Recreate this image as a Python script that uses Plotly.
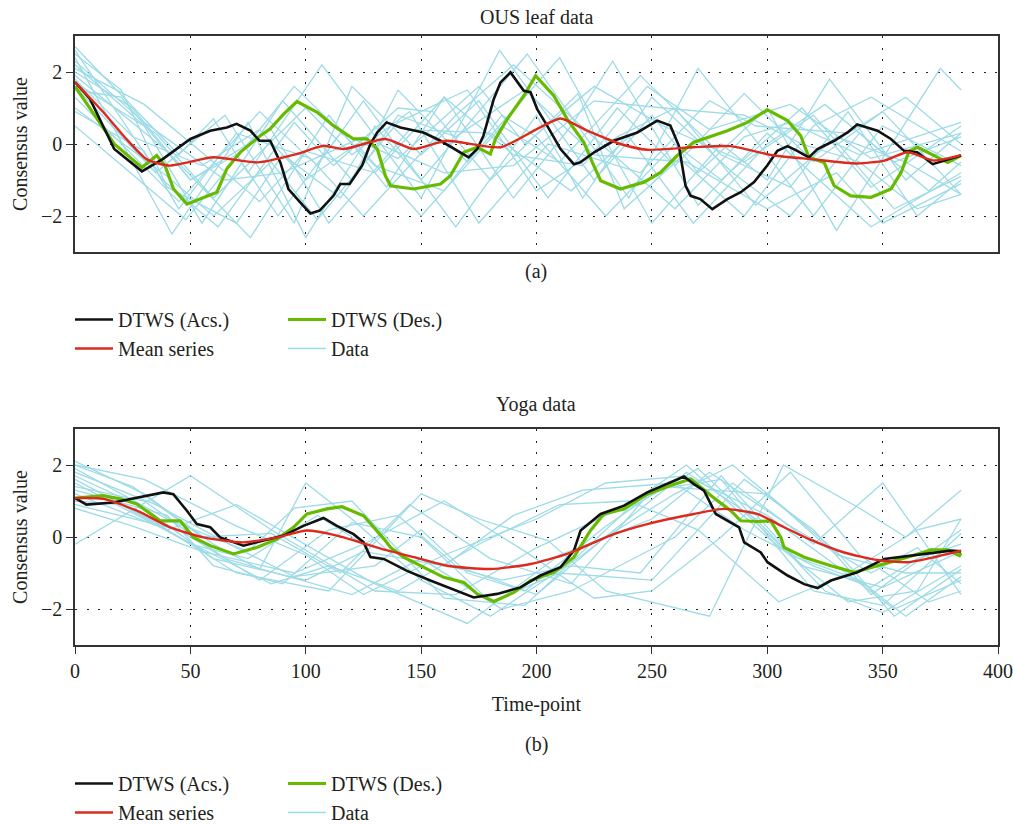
import plotly.graph_objects as go

# ---------------- data ----------------
# Panel (a): OUS leaf data  -- (time-point, value) breakpoints
ous_acs = [(0, 1.72), (6.5, 1.25), (17, -0.14), (29, -0.76), (38, -0.42), (44, -0.14), (50, 0.14),
           (58.6, 0.37), (65.8, 0.46), (70, 0.56), (76, 0.37), (80, 0.09), (84.6, 0.09), (89, -0.51),
           (92.5, -1.25), (97.6, -1.62), (102, -1.93), (106, -1.85), (112, -1.44), (115, -1.11),
           (119, -1.11), (124.4, -0.6), (128, 0.0), (131, 0.32), (135, 0.6), (141, 0.46), (151, 0.32),
           (158.4, 0.09), (167, -0.23), (170.6, -0.37), (174.3, -0.14), (177, 0.23), (181.5, 1.25),
           (184.4, 1.71), (188.7, 1.99), (194.5, 1.48), (197.4, 1.44), (200.3, 0.97), (204.6, 0.51),
           (210.4, -0.14), (216.2, -0.56), (219, -0.51), (225, -0.23), (233.5, 0.09), (243.7, 0.32),
           (252.3, 0.65), (258, 0.51), (261.7, -0.05), (264.6, -1.16), (266.8, -1.44), (271, -1.53),
           (276.2, -1.81), (282.7, -1.53), (288.5, -1.34), (294.3, -1.06), (300, -0.6), (304.4, -0.19),
           (308.8, -0.06), (313, -0.19), (318, -0.37), (321.8, -0.14), (329, 0.09), (334.8, 0.32),
           (339, 0.54), (347.8, 0.37), (353.6, 0.14), (359.3, -0.19), (365, -0.23), (371.7, -0.56),
           (376.7, -0.46), (384, -0.32)]
ous_des = [(0, 1.6), (17, 0.0), (29, -0.65), (35.4, -0.32), (39, -0.6), (42.7, -1.25), (48.5, -1.67),
           (55.7, -1.48), (61.5, -1.34), (65.8, -0.69), (71.6, -0.23), (80.3, 0.23), (84.6, 0.42),
           (90.4, 0.83), (96.2, 1.18), (105, 0.88), (112, 0.51), (120.7, 0.14), (126.5, 0.14),
           (131, -0.14), (134.5, -0.88), (136.7, -1.16), (146.8, -1.25), (158.4, -1.11), (162.7, -0.88),
           (168.5, -0.23), (174.3, -0.09), (180, -0.28), (182.2, 0.14), (187.3, 0.69), (194.5, 1.34),
           (199.6, 1.9), (207.5, 1.34), (213.3, 0.69), (220.5, 0.05), (224.2, -0.51), (227.8, -1.02),
           (236.4, -1.25), (246.6, -1.06), (253.8, -0.79), (261, -0.32), (268.2, 0.05), (272.6, 0.14),
           (282.7, 0.37), (291.4, 0.6), (300.1, 0.95), (308.8, 0.65), (314.5, 0.23), (318, -0.37),
           (324.6, -0.51), (329, -1.16), (336.2, -1.44), (345, -1.48), (353.6, -1.25), (358, -0.79),
           (361.5, -0.19), (365.2, -0.09), (372.4, -0.32), (378.2, -0.51), (384, -0.32)]
ous_mean = [(0, 1.72), (12.3, 0.88), (21, 0.23), (31, -0.42), (41, -0.6), (60, -0.37), (79, -0.51),
            (96, -0.28), (107.7, -0.05), (116.4, -0.14), (134.5, 0.14), (146.8, -0.14), (161, 0.09),
            (184.4, -0.09), (200.3, 0.42), (210.4, 0.71), (222, 0.37), (236.4, 0.0), (248, -0.16),
            (268, -0.09), (284, -0.06), (303, -0.32), (319, -0.42), (339, -0.54), (350.7, -0.46),
            (360.8, -0.23), (372.4, -0.46), (384, -0.31)]

ous_data_01 = [(0, 2.7), (45, -0.3), (60, 0.7), (75, -0.8), (107, 2.2), (150, -1.5), (184, 2.6), (225, -1.0),
               (250, 0.8), (270, -0.8), (300, 1.0), (330, -2.4), (375, 2.1), (384, 1.5)]
ous_data_02 = [(0, 2.4), (42, -2.5), (75, 0.6), (100, -2.6), (130, 0.5), (150, -1.0), (196, 2.5), (240, -1.5),
               (270, 2.1), (300, -0.3), (320, -2.0), (350, 0.5), (384, -0.6)]
ous_data_03 = [(0, 2.2), (30, 0.5), (55, -2.2), (90, 1.2), (120, -1.0), (140, 1.5), (170, -0.5), (210, 2.4),
               (250, -2.2), (280, 0.0), (300, -1.0), (327, 1.8), (360, -1.0), (384, 0.3)]
ous_data_04 = [(0, 1.9), (40, -0.2), (76, -2.6), (110, 0.8), (135, -1.2), (160, 1.3), (190, -1.5), (215, 0.5),
               (233, 2.3), (270, -1.7), (300, 0.3), (345, -2.3), (384, -0.8)]
ous_data_05 = [(0, 1.6), (35, -0.8), (65, 0.8), (95, -2.2), (120, 1.6), (150, -0.3), (175, 1.2), (205, -1.5),
               (235, 1.0), (260, -0.6), (290, 1.4), (320, -0.5), (350, 0.9), (384, -1.4)]
ous_data_06 = [(0, 1.3), (45, -1.6), (80, 0.9), (105, -0.6), (125, 1.2), (165, -2.3), (200, 0.8), (220, -1.5),
               (250, 1.3), (285, -0.8), (310, -2.0), (340, 0.3), (370, -1.3), (384, -0.5)]
ous_data_07 = [(0, 0.5), (48, -2.1), (75, 0.0), (95, 1.6), (130, -0.6), (160, -1.3), (185, 0.8), (200, 0.2),
               (230, -2.0), (260, 0.0), (280, -1.0), (315, 1.0), (345, -1.2), (384, 0.5)]
ous_data_08 = [(0, 2.0), (25, 1.0), (50, -1.0), (70, -0.3), (88, -2.0), (115, 0.3), (140, -0.4), (175, 1.6),
               (195, 0.0), (225, 1.6), (255, 0.5), (290, -0.5), (320, 0.8), (355, -1.8), (384, -0.9)]
ous_data_09 = [(0, 1.7), (35, 0.3), (60, -1.5), (100, 1.0), (120, -0.3), (145, 0.9), (175, -2.2), (205, 0.0),
               (245, -0.8), (275, 1.2), (295, 0.5), (335, 0.3), (360, 1.3), (384, 0.0)]
ous_data_10 = [(0, 2.5), (20, 1.5), (40, -1.2), (70, -2.2), (90, -0.3), (115, -1.5), (140, 0.8), (165, 0.2),
               (195, 1.5), (225, -0.3), (265, -0.5), (300, -1.8), (330, -0.8), (350, -2.2), (384, -1.1)]
ous_data_11 = [(0, 1.5), (20, 1.3), (50, -1.0), (85, 0.4), (110, -2.2), (145, 0.4), (180, 0.3), (215, -1.3),
               (240, 0.2), (268, -2.2), (300, 0.0), (325, 1.1), (355, -0.5), (384, 0.2)]
ous_data_12 = [(0, 2.3), (30, 0.6), (65, -1.0), (90, -0.8), (125, 0.2), (160, -0.8), (190, -0.6), (225, 1.2),
               (255, 1.0), (290, 0.8), (315, 0.0), (340, -0.5), (365, -1.8), (384, -1.4)]
ous_data_13 = [(0, 1.0), (40, -0.9), (60, -2.0), (85, -0.5), (105, -2.1), (140, 0.6), (170, 1.5), (200, -1.3),
               (235, 0.2), (260, 1.0), (295, -1.7), (330, 0.2), (360, -0.5), (384, -1.4)]
ous_data_14 = [(0, 2.1), (30, 1.1), (60, -0.5), (80, -1.6), (100, -0.2), (130, -0.8), (160, 1.3), (190, -0.3),
               (220, -0.6), (248, 1.6), (275, 0.4), (310, 1.1), (345, -0.4), (384, 0.3)]
ous_data_15 = [(0, 1.8), (25, 0.2), (55, -0.6), (80, 0.4), (100, -1.0), (122, 0.0), (150, -2.0), (185, 0.5),
               (210, -0.5), (245, 1.9), (280, -0.3), (310, -1.2), (335, 0.9), (365, -2.0), (384, -1.0)]
ous_data_16 = [(0, 2.6), (38, -1.0), (62, -2.3), (95, 0.6), (112, -0.6), (140, 1.0), (155, 0.9), (180, -1.0),
               (218, 1.4), (238, -1.8), (262, -0.4), (290, -2.0), (320, 0.5), (345, 1.3), (384, -0.2)]
ous_data_17 = [(0, 0.9), (30, -0.2), (45, -1.8), (70, 0.3), (102, -0.4), (125, -2.0), (165, 0.8), (190, 2.2),
               (228, 0.0), (260, -1.8), (290, 0.2), (310, 0.6), (340, -0.3), (384, 0.6)]

# Panel (b): Yoga data
yoga_acs = [(0, 1.08), (5, 0.9), (16.6, 0.96), (26.8, 1.1), (38.3, 1.24), (42.6, 1.19), (48.5, 0.73),
            (52.8, 0.36), (58.6, 0.27), (62.9, -0.01), (73, -0.24), (81.7, -0.1), (90.4, 0.04), (99, 0.31),
            (107.7, 0.53), (113.5, 0.31), (120.7, 0.08), (125.1, -0.15), (128, -0.56), (133.8, -0.61),
            (143.9, -0.94), (154, -1.21), (165.6, -1.49), (172.8, -1.68), (183, -1.58), (193, -1.4),
            (201.7, -1.07), (210.4, -0.84), (216.2, -0.38), (219.1, 0.18), (227.8, 0.64), (237.9, 0.87),
            (248, 1.24), (258.1, 1.52), (263.9, 1.68), (268.2, 1.47), (272.6, 1.29), (277.7, 0.64),
            (282.7, 0.45), (287.8, 0.27), (290, -0.15), (297.2, -0.43), (300.1, -0.7), (308.8, -1.07),
            (316, -1.31), (321.8, -1.42), (327.6, -1.21), (339.1, -0.98), (350.7, -0.61), (368, -0.47),
            (379.6, -0.38), (384, -0.4)]
yoga_des = [(0, 1.08), (12.3, 1.15), (19.5, 1.06), (26.8, 0.92), (36.9, 0.45), (45.6, 0.45), (51.3, -0.01),
            (58.6, -0.24), (68.7, -0.47), (78.8, -0.29), (87.5, -0.06), (94.7, 0.27), (100.5, 0.64),
            (109.2, 0.78), (115.7, 0.84), (125.1, 0.59), (134.5, -0.1), (136.7, -0.29), (142.4, -0.56),
            (151.1, -0.84), (159.8, -1.12), (168.5, -1.26), (174.3, -1.58), (181.5, -1.79), (190.2, -1.54),
            (197.4, -1.21), (207.5, -0.98), (216.2, -0.56), (223.4, 0.18), (229.2, 0.64), (237.9, 0.78),
            (248, 1.19), (258.1, 1.43), (266.8, 1.61), (271.1, 1.38), (278.4, 1.01), (284.2, 0.73),
            (288.5, 0.45), (295.7, 0.43), (301.5, 0.45), (305.9, -0.01), (307.3, -0.29), (316, -0.56),
            (327.6, -0.8), (337.7, -0.98), (350.7, -0.75), (360.8, -0.56), (370.9, -0.36), (378.2, -0.36),
            (383.3, -0.52), (384, -0.45)]
yoga_mean = [(0, 1.08), (12.3, 1.06), (26.8, 0.73), (41.2, 0.27), (55.7, -0.01), (73, -0.15), (87.5, -0.01),
             (100.5, 0.18), (113.5, 0.04), (134.5, -0.36), (146.8, -0.56), (161.2, -0.8), (180, -0.89),
             (197.4, -0.75), (213.3, -0.47), (233.5, 0.08), (248, 0.36), (268.2, 0.64), (281.3, 0.78),
             (295.7, 0.64), (307.3, 0.27), (318.9, -0.08), (333.3, -0.43), (347.8, -0.64), (360.8, -0.7),
             (372.4, -0.56), (384, -0.38)]

yoga_data_01 = [(0, -0.2), (50, 1.7), (85, 0.2), (130, -1.5), (165, -1.6), (200, -0.3), (240, 0.9), (265, 2.0),
                (300, 0.0), (335, -1.8), (365, -1.5), (384, 0.5)]
yoga_data_02 = [(0, 2.1), (30, 1.2), (60, -0.2), (80, -0.9), (100, 1.5), (120, 0.5), (150, -1.2), (180, -2.2),
                (220, -0.5), (265, 1.8), (295, 0.5), (325, -1.5), (350, -2.1), (384, -0.8)]
yoga_data_03 = [(0, 1.9), (40, 0.5), (75, -0.4), (95, 0.8), (120, 1.0), (160, -1.7), (195, -1.9), (240, 0.8),
                (270, 1.9), (310, -0.5), (340, -1.2), (360, -2.2), (384, -1.1)]
yoga_data_04 = [(0, 1.6), (35, 0.4), (70, -1.0), (110, -1.5), (150, 1.2), (175, 0.5), (205, -0.1), (230, -1.5),
                (275, -2.2), (307, 2.0), (340, 0.8), (360, 0.0), (384, 1.3)]
yoga_data_05 = [(0, 1.4), (30, 1.0), (65, -0.6), (120, -1.6), (150, -0.6), (185, -2.0), (215, -1.5), (260, 0.0),
                (285, 1.5), (320, -0.2), (350, 1.5), (384, -1.6)]
yoga_data_06 = [(0, 1.2), (40, 0.2), (70, 0.9), (105, -0.4), (130, -1.3), (170, -2.4), (210, -0.5), (250, 0.5),
                (275, 1.8), (310, 0.3), (345, -1.0), (365, -0.3), (384, -1.3)]
yoga_data_07 = [(0, 0.9), (45, 0.2), (80, -1.2), (110, 0.2), (140, 0.6), (165, -0.8), (200, -1.6), (230, 0.0),
                (260, 1.2), (285, 2.0), (330, -0.4), (355, -2.2), (384, -0.9)]
yoga_data_08 = [(0, 2.0), (25, 1.4), (55, 0.0), (85, 0.1), (115, -1.0), (145, 0.9), (180, -0.6), (215, -1.3),
                (250, 1.3), (280, 1.6), (320, -1.5), (350, -1.9), (384, 0.1)]
yoga_data_09 = [(0, 1.7), (30, 0.8), (60, -0.6), (100, -1.2), (125, -0.4), (160, -0.8), (190, 0.6), (220, 1.3),
                (260, 1.5), (290, 0.2), (320, -0.8), (345, -1.4), (365, -0.6), (384, -0.2)]
yoga_data_10 = [(0, 1.5), (45, 0.0), (85, -1.3), (110, -0.8), (140, -1.5), (175, -0.2), (210, 0.9), (240, 1.0),
                (270, 0.2), (305, -1.8), (335, -1.0), (365, 0.2), (384, 0.5)]
yoga_data_11 = [(0, 1.0), (20, 0.9), (50, -0.2), (75, -0.6), (105, 0.6), (125, -0.2), (150, -0.6), (185, -1.2),
                (215, -0.8), (245, -1.0), (280, 1.7), (315, -0.8), (350, -1.4), (384, -0.4)]
yoga_data_12 = [(0, 1.8), (35, 0.9), (70, -0.3), (95, -1.1), (130, -0.8), (150, 0.2), (170, -1.0), (195, -1.5),
                (230, 0.3), (255, 1.4), (300, 1.2), (330, -0.5), (360, -1.0), (384, -1.0)]
yoga_data_13 = [(0, 2.0), (30, 1.6), (70, 0.3), (100, -0.5), (125, -1.6), (160, -0.5), (200, 0.5), (230, 1.5),
                (265, 1.7), (300, 0.6), (330, -0.8), (355, -2.0), (384, -1.2)]
yoga_data_14 = [(0, 1.3), (40, 0.6), (60, -0.8), (90, -1.3), (120, 0.4), (150, 0.0), (180, -1.8), (210, -1.0),
                (250, -1.2), (290, 1.6), (320, 0.2), (345, -1.6), (384, 0.2)]
yoga_data_15 = [(0, 0.8), (25, 0.3), (55, -0.4), (95, -1.0), (125, -0.2), (160, 1.0), (195, -0.4), (225, -1.7),
                (250, -1.5), (280, 0.0), (310, 1.8), (340, -0.5), (370, -1.8), (384, -1.5)]

ous_data = [ous_data_01, ous_data_02, ous_data_03, ous_data_04, ous_data_05, ous_data_06, ous_data_07,
            ous_data_08, ous_data_09, ous_data_10, ous_data_11, ous_data_12, ous_data_13, ous_data_14,
            ous_data_15, ous_data_16, ous_data_17]
yoga_data = [yoga_data_01, yoga_data_02, yoga_data_03, yoga_data_04, yoga_data_05, yoga_data_06,
             yoga_data_07, yoga_data_08, yoga_data_09, yoga_data_10, yoga_data_11, yoga_data_12,
             yoga_data_13, yoga_data_14, yoga_data_15]

x_ticks = [0, 50, 100, 150, 200, 250, 300, 350, 400]
y_ticks = [-2, 0, 2]
panel_titles = ["OUS leaf data", "Yoga data"]
panel_labels = ["(a)", "(b)"]
name_acs, name_des, name_mean, name_data = "DTWS (Acs.)", "DTWS (Des.)", "Mean series", "Data"

# ---------------- styling ----------------
W, H = 1013, 825
FONT = "Liberation Serif"
TXT = "#231f20"
C_BLACK, C_GREEN, C_RED, C_CYAN = "#111111", "#66bb00", "#dd2a1e", "#9ddbe6"
AX = "#333333"


def px(x):
    return x / W


def py(y):
    return 1 - y / H


def xs(pts):
    return [p[0] for p in pts]


def ys(pts):
    return [p[1] for p in pts]


fig = go.Figure()

panels = [
    dict(data=ous_data, acs=ous_acs, des=ous_des, mean=ous_mean, xa="x", ya="y", lg=("legend", "legend2")),
    dict(data=yoga_data, acs=yoga_acs, des=yoga_des, mean=yoga_mean, xa="x2", ya="y2", lg=("legend3", "legend4")),
]

for p in panels:
    for i, s in enumerate(p["data"]):
        fig.add_trace(go.Scatter(x=xs(s), y=ys(s), mode="lines", name=name_data,
                                 line=dict(color=C_CYAN, width=1.3), xaxis=p["xa"], yaxis=p["ya"],
                                 legend=p["lg"][1], legendgroup="data" + p["xa"], showlegend=(i == 0),
                                 legendrank=2, hoverinfo="skip"))
    fig.add_trace(go.Scatter(x=xs(p["des"]), y=ys(p["des"]), mode="lines", name=name_des,
                             line=dict(color=C_GREEN, width=3.2), xaxis=p["xa"], yaxis=p["ya"],
                             legend=p["lg"][1], legendrank=1))
    fig.add_trace(go.Scatter(x=xs(p["acs"]), y=ys(p["acs"]), mode="lines", name=name_acs,
                             line=dict(color=C_BLACK, width=2.6), xaxis=p["xa"], yaxis=p["ya"],
                             legend=p["lg"][0], legendrank=1))
    fig.add_trace(go.Scatter(x=xs(p["mean"]), y=ys(p["mean"]), mode="lines", name=name_mean,
                             line=dict(color=C_RED, width=2.4, shape="spline", smoothing=0.6),
                             xaxis=p["xa"], yaxis=p["ya"], legend=p["lg"][0], legendrank=2))

grid = dict(showgrid=True, gridcolor="#222222", gridwidth=1, griddash="2px,9.5px", zeroline=False,
            showline=True, mirror=True, linecolor=AX, linewidth=1.5)
tickfont = dict(family=FONT, size=20, color=TXT)

fig.update_layout(
    width=W, height=H, margin=dict(l=0, r=0, t=0, b=0, autoexpand=False), template="none",
    paper_bgcolor="white", plot_bgcolor="white",
    font=dict(family=FONT, size=20, color=TXT),
    xaxis=dict(domain=[px(75), px(998)], range=[0, 400], tickvals=x_ticks[1:-1], showticklabels=False,
               ticks="", anchor="y", **grid),
    yaxis=dict(domain=[py(252), py(36)], range=[-3, 3], tickvals=y_ticks, ticks="outside", ticklen=7,
               tickcolor=AX, tickwidth=1.3, tickfont=tickfont, anchor="x",
               title=dict(text="Consensus value", font=dict(family=FONT, size=20, color=TXT), standoff=8),
               **grid),
    xaxis2=dict(domain=[px(75), px(998)], range=[0, 400], tickvals=x_ticks, ticks="outside", ticklen=7,
                tickcolor=AX, tickwidth=1.3, tickfont=tickfont, anchor="y2",
                title=dict(text="Time-point", font=dict(family=FONT, size=20, color=TXT), standoff=16),
                **grid),
    yaxis2=dict(domain=[py(645), py(429)], range=[-3, 3], tickvals=y_ticks, ticks="outside", ticklen=7,
                tickcolor=AX, tickwidth=1.3, tickfont=tickfont, anchor="x2",
                title=dict(text="Consensus value", font=dict(family=FONT, size=20, color=TXT), standoff=8),
                **grid),
)

legend_style = dict(xanchor="left", yanchor="top", bgcolor="rgba(0,0,0,0)", borderwidth=0,
                    font=dict(family=FONT, size=20, color=TXT), itemwidth=38, orientation="v",
                    traceorder="normal")
fig.update_layout(
    legend=dict(x=px(70), y=py(300), **legend_style),
    legend2=dict(x=px(283), y=py(300), **legend_style),
    legend3=dict(x=px(70), y=py(764), **legend_style),
    legend4=dict(x=px(283), y=py(764), **legend_style),
)

annos = [
    (panel_titles[0], 536, 17), (panel_labels[0], 536, 271),
    (panel_titles[1], 536, 404), (panel_labels[1], 536, 744),
]
for text, ax_, ay_ in annos:
    fig.add_annotation(text=text, x=px(ax_), y=py(ay_), xref="paper", yref="paper", showarrow=False,
                       xanchor="center", yanchor="middle", font=dict(family=FONT, size=20, color=TXT))

fig.write_html("out.html", config={"displayModeBar": False},
               post_script="document.body.style.margin='0';")
